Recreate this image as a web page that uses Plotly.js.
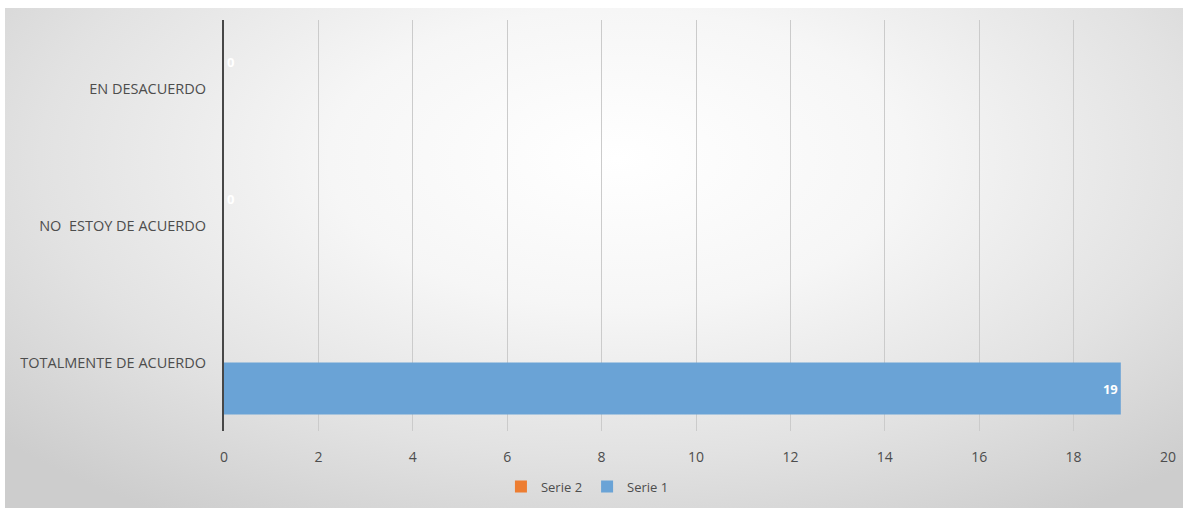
<!DOCTYPE html>
<html>
<head>
<meta charset="utf-8">
<script src="https://cdn.plot.ly/plotly-3.0.1.min.js"></script>
<style>
  html, body { margin: 0; padding: 0; background: #ffffff; }
  #frame {
    position: absolute; left: 5px; top: 8px; width: 1178px; height: 500px;
    background: radial-gradient(ellipse 70% 85% at 52% 30%, #ffffff 0%, #f6f6f6 35%, #e2e2e2 70%, #cdcdcd 100%);
  }
  #chart { position: absolute; left: 0; top: 0; width: 1188px; height: 514px; }
</style>
</head>
<body>
<div id="frame"></div>
<div id="chart"></div>
<script>
// Survey answers, bottom to top
const categories = ["TOTALMENTE DE ACUERDO", "NO  ESTOY DE ACUERDO", "EN DESACUERDO"];
const serie1 = [19, null, null];
const serie2 = [null, 0, 0];
const xTicks = [0, 2, 4, 6, 8, 10, 12, 14, 16, 18, 20];

const baseFont = "Open Sans, Lato, sans-serif";
const catFont = { family: baseFont, size: 14.5, color: "#4d4d4d" };
const tickFont = { family: baseFont, size: 14, color: "#4d4d4d" };
const legendFont = { family: baseFont, size: 13, color: "#4d4d4d" };

const traces = [
  {
    type: "bar", orientation: "h", name: "Serie 1",
    y: categories, x: serie1,
    marker: { color: "#6aa3d6" },
    text: serie1.map(v => v === null ? "" : String(v)),
    textposition: "inside", insidetextanchor: "end",
    textfont: { family: baseFont, size: 13, color: "#ffffff", weight: 700 },
    cliponaxis: false, hoverinfo: "x+y"
  },
  {
    type: "bar", orientation: "h", name: "Serie 2",
    y: categories, x: serie2,
    marker: { color: "#ed7d31" },
    text: serie2.map(v => v === null ? "" : String(v)),
    textposition: "outside",
    textfont: { family: baseFont, size: 13, color: "#ffffff", weight: 700 },
    cliponaxis: false, hoverinfo: "x+y"
  }
];

const layout = {
  width: 1188, height: 514,
  margin: { l: 224, r: 20, t: 20, b: 79 },
  paper_bgcolor: "rgba(0,0,0,0)",
  plot_bgcolor: "rgba(0,0,0,0)",
  barmode: "group",
  bargap: 0.24,
  bargroupgap: 0,
  showlegend: true,
  legend: {
    orientation: "h", traceorder: "reversed",
    x: 0.385, xanchor: "center", y: -0.135, yanchor: "middle",
    font: legendFont, bgcolor: "rgba(0,0,0,0)",
    itemwidth: 30
  },
  xaxis: {
    range: [0, 20], tickvals: xTicks, ticktext: xTicks.map(String),
    showgrid: true, gridcolor: "#cbcbcb", gridwidth: 1,
    zeroline: false, showline: false,
    ticks: "", ticklabelstandoff: 16,
    tickfont: tickFont, fixedrange: true
  },
  yaxis: {
    type: "category", categoryorder: "array", categoryarray: categories,
    showgrid: false, zeroline: false,
    showline: true, linecolor: "#474747", linewidth: 2,
    ticks: "", ticklabelstandoff: 13,
    tickfont: catFont, fixedrange: true
  }
};

Plotly.newPlot("chart", traces, layout, { displayModeBar: false, staticPlot: true });
</script>
</body>
</html>
